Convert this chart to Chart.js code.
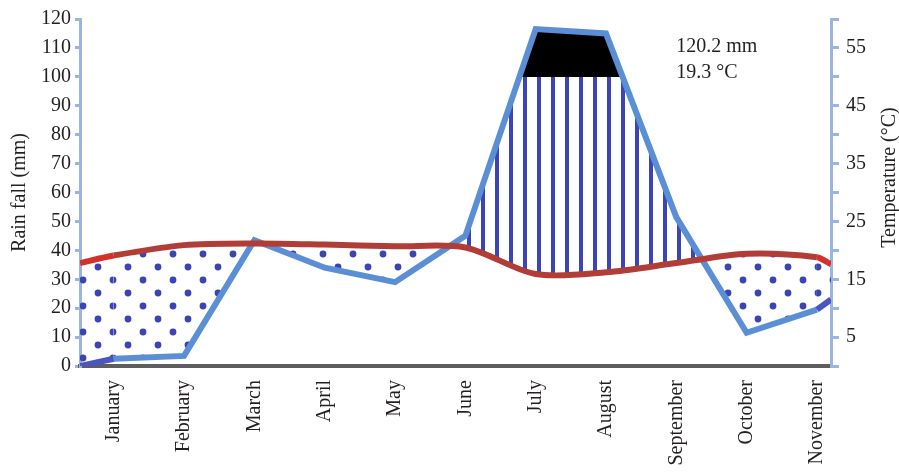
<!DOCTYPE html>
<html>
<head>
<meta charset="utf-8">
<script src="https://cdn.jsdelivr.net/npm/chart.js@4.4.1/dist/chart.umd.min.js"></script>
<style>
  html, body { margin: 0; padding: 0; background: #fff; }
  #wrap { width: 899px; height: 472px; }
</style>
</head>
<body>
<div id="wrap"><canvas id="climateChart" width="899" height="472"></canvas></div>
<script>
// Climate diagram data
const months = ["January", "February", "March", "April", "May", "June", "July", "August", "September", "October", "November"];
const rainfall = [2.5, 3.5, 43.5, 34, 29, 45, 116.5, 115, 51.5, 11.5, 19.5];
const temperature = [19.1, 20.9, 21.2, 21.0, 20.7, 20.5, 15.9, 16.2, 17.8, 19.4, 18.8];
// values where the lines meet the left and right axes
const rainAtEdges = [0, 23];
const tempAtEdges = [17.8, 17.6];
const tempTickLabels = [5, 15, 25, 35, 45, 55];
const summary = ["120.2 mm", "19.3 °C"];
const CAP_LEVEL = 100; // rain above this is filled black

const X_MIN = -0.48;
const X_MAX = 10.2;
const FONT = "Liberation Serif";
const TEXT = "#231f20";
const AXIS_BLUE = "#9ab5df";
const NONE = "rgba(0,0,0,0)";

function withEdges(values, edges) {
  return [{ x: X_MIN, y: edges[0] }]
    .concat(values.map((v, i) => ({ x: i, y: v })))
    .concat([{ x: X_MAX, y: edges[1] }]);
}

// Patterns for the dry (dots) and humid (vertical lines) zones
function makeDots() {
  const c = document.createElement("canvas");
  c.width = 30; c.height = 26;
  const g = c.getContext("2d");
  g.fillStyle = "#3a44b2";
  [[8, 7], [23, 20]].forEach(([x, y]) => {
    g.beginPath();
    g.arc(x, y, 3.4, 0, Math.PI * 2);
    g.fill();
  });
  return g.createPattern(c, "repeat");
}

// vertical lines, solid black above the cap pixel row
function makeHatch(capY, h) {
  const c = document.createElement("canvas");
  c.width = 14; c.height = h;
  const g = c.getContext("2d");
  g.fillStyle = "#3b45b5";
  g.fillRect(5, 0, 4, h);
  if (capY > 0) {
    g.fillStyle = "#000";
    g.fillRect(0, 0, 14, Math.round(capY));
  }
  return g.createPattern(c, "repeat");
}

const rainPoints = withEdges(rainfall, rainAtEdges);
const tempPoints = withEdges(temperature, tempAtEdges);
const lastSeg = rainPoints.length - 2;

// Extra text: summary values and the right axis title
const textPlugin = {
  id: "texts",
  afterDatasetsDraw(chart) {
    const { ctx, scales } = chart;
    ctx.save();
    ctx.fillStyle = TEXT;
    ctx.font = "20px '" + FONT + "'";
    ctx.textAlign = "left";
    ctx.textBaseline = "middle";
    const tx = scales.x.getPixelForValue(8.0);
    ctx.fillText(summary[0], tx, scales.y.getPixelForValue(110.5));
    ctx.fillText(summary[1], tx, scales.y.getPixelForValue(101.5));

    ctx.translate(890, (chart.chartArea.top + chart.chartArea.bottom) / 2 - 15);
    ctx.rotate(-Math.PI / 2);
    ctx.textAlign = "center";
    ctx.fillText("Temperature (°C)", 0, 0);
    ctx.restore();
  },
};

const ctx = document.getElementById("climateChart").getContext("2d");
const climateChart = new Chart(ctx, {
  type: "line",
  data: {
    datasets: [
      {
        label: "Rain fall",
        data: rainPoints,
        yAxisID: "y",
        borderColor: "#5b8fd5",
        borderWidth: 6,
        pointRadius: 0,
        tension: 0,
        fill: false,
        order: 1,
        segment: {
          borderColor: (s) => (s.p0DataIndex === 0 || s.p0DataIndex === lastSeg ? "#4b55bf" : undefined),
        },
      },
      {
        label: "Temperature",
        data: tempPoints,
        yAxisID: "y1",
        borderColor: "#b23d37",
        borderWidth: 6,
        pointRadius: 0,
        tension: 0.3,
        fill: false,
        order: 0,
        segment: {
          borderColor: (s) => (s.p0DataIndex === 0 || s.p0DataIndex === lastSeg ? "#d6302d" : undefined),
        },
      },
      {
        label: "Zones",
        data: rainPoints,
        yAxisID: "y",
        borderColor: NONE,
        borderWidth: 1,
        pointRadius: 0,
        tension: 0,
        fill: { target: 1, above: NONE, below: makeDots() },
        order: 3,
      },
    ],
  },
  options: {
    responsive: false,
    animation: false,
    layout: { padding: { top: 18, left: 0, right: 0, bottom: 0 } },
    plugins: {
      legend: { display: false },
      tooltip: { enabled: false },
    },
    scales: {
      x: {
        type: "linear",
        min: X_MIN,
        max: X_MAX,
        grid: { display: false },
        border: { color: "#5e5e5e", width: 4 },
        ticks: {
          stepSize: 1,
          includeBounds: false,
          autoSkip: false,
          maxRotation: 90,
          minRotation: 90,
          padding: 6,
          color: TEXT,
          font: { family: FONT, size: 20 },
          callback: (v) => (Number.isInteger(v) && months[v] ? months[v] : ""),
        },
        afterFit: (s) => { s.height = 106; },
      },
      y: {
        position: "left",
        min: 0,
        max: 120,
        grid: { drawOnChartArea: false, color: AXIS_BLUE, lineWidth: 3, tickLength: 5 },
        border: { color: AXIS_BLUE, width: 3 },
        ticks: {
          stepSize: 10,
          padding: 4,
          color: TEXT,
          font: { family: FONT, size: 20 },
        },
        title: {
          display: true,
          text: "Rain fall (mm)",
          color: TEXT,
          font: { family: FONT, size: 20 },
          padding: { top: 8, bottom: 0 },
        },
        afterFit: (s) => { s.width = 80; },
      },
      y1: {
        position: "right",
        min: 0,
        max: 60,
        grid: { drawOnChartArea: false, color: AXIS_BLUE, lineWidth: 3, tickLength: 8 },
        border: { color: AXIS_BLUE, width: 3 },
        ticks: {
          stepSize: 5,
          padding: 7,
          color: TEXT,
          font: { family: FONT, size: 20 },
          callback: (v) => (tempTickLabels.includes(v) ? v : ""),
        },
        afterFit: (s) => { s.width = 68; },
      },
    },
  },
  plugins: [textPlugin],
});

// humid zone pattern needs the pixel row of the cap level
const capY = climateChart.scales.y.getPixelForValue(CAP_LEVEL);
climateChart.data.datasets[2].fill.above = makeHatch(capY, climateChart.height);
climateChart.update("none");
</script>
</body>
</html>
